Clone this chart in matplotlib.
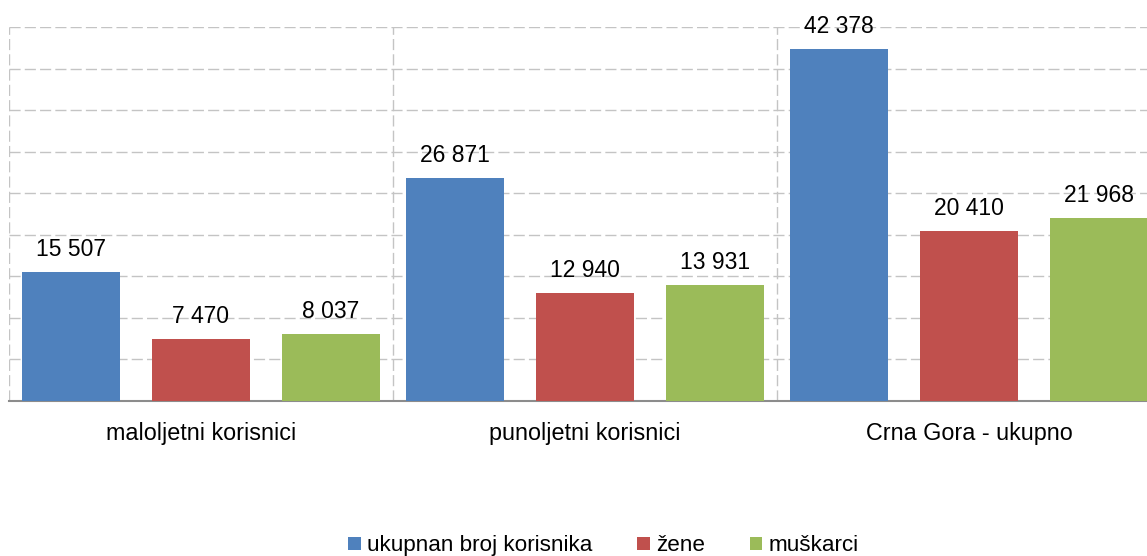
import numpy as np
import matplotlib
matplotlib.use("Agg")
import matplotlib.pyplot as plt

plt.rcParams["font.family"] = ["Liberation Sans", "DejaVu Sans"]

# data
categories = ["maloljetni korisnici", "punoljetni korisnici", "Crna Gora - ukupno"]
series_names = ["ukupnan broj korisnika", "žene", "muškarci"]
ukupno = [15507, 26871, 42378]
zene = [7470, 12940, 20410]
muskarci = [8037, 13931, 21968]
colors = ["#4F81BD", "#C0504D", "#9BBB59"]

values = [ukupno, zene, muskarci]

fig = plt.figure(figsize=(11.47, 5.56), dpi=100)
ax = fig.add_axes([9 / 1147, 155 / 556, 1152 / 1147, 374 / 556])

x = np.arange(len(categories))
step = 0.3385
width = 0.255

for i, (vals, name, col) in enumerate(zip(values, series_names, colors)):
    pos = x + (i - 1) * step
    ax.bar(pos, vals, width=width, color=col, label=name, zorder=3)
    for px, v in zip(pos, vals):
        txt = f"{v:,}".replace(",", " ")
        ax.annotate(txt, (px, v), xytext=(0, 8), textcoords="offset points",
                    ha="center", va="bottom", fontsize=16.5, color="#000000", zorder=4)

ax.set_xlim(-0.5, 2.5)
ax.set_ylim(0, 45000)
ax.set_yticks(np.arange(0, 45001, 5000))
ax.set_yticklabels([])
ax.set_xticks(x)
ax.set_xticklabels(categories, fontsize=16.8)
ax.set_xticks([-0.5, 0.5, 1.5, 2.5], minor=True)
ax.tick_params(axis="x", which="both", length=0, pad=15)
ax.tick_params(axis="y", length=0)

ax.grid(axis="y", color="#C4C4C4", linestyle=(0, (8, 3)), linewidth=1, zorder=0)
ax.grid(axis="x", which="minor", color="#C4C4C4", linestyle=(0, (8, 3)), linewidth=1, zorder=0)

for s in ["top", "right", "left"]:
    ax.spines[s].set_visible(False)
ax.spines["bottom"].set_color("#8C8C8C")
ax.spines["bottom"].set_linewidth(1.5)

fig.legend(loc="lower center", bbox_to_anchor=(0.526, -0.037), ncol=3, frameon=False,
           fontsize=16.2, handlelength=0.55, handleheight=0.55, handletextpad=0.27,
           columnspacing=2.0)

plt.savefig("out.png", dpi=100)
